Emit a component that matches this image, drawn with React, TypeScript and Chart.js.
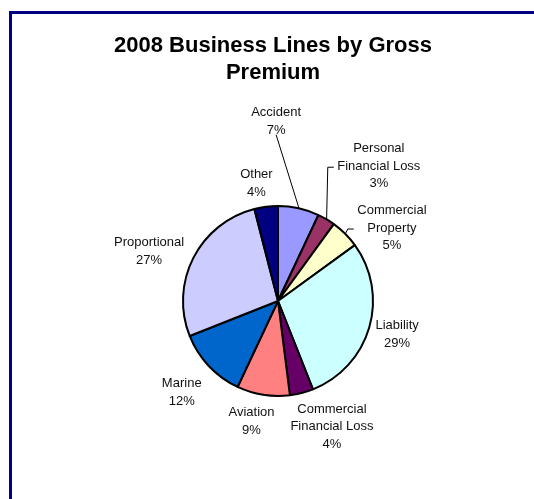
import React, { useEffect, useRef } from "react";
import { Chart, ArcElement, PieController } from "chart.js";

Chart.register(ArcElement, PieController);

// ---- data ----
const titleLines = ["2008 Business Lines by Gross", "Premium"];
const categories: string[][] = [
  ["Accident"],
  ["Personal", "Financial Loss"],
  ["Commercial", "Property"],
  ["Liability"],
  ["Commercial", "Financial Loss"],
  ["Aviation"],
  ["Marine"],
  ["Proportional"],
  ["Other"],
];
const shares = [7, 3, 5, 29, 4, 9, 12, 27, 4];
const sliceColors = [
  "#9999FF",
  "#993366",
  "#FFFFCC",
  "#CCFFFF",
  "#660066",
  "#FF8080",
  "#0066CC",
  "#CCCCFF",
  "#000080",
];

// ---- label placement (style): distance in radii, angle shift in degrees ----
const labelDistance = [1.9, 1.78, 1.43, 1.3, 1.43, 1.29, 1.39, 1.457, 1.27];
const labelAngleShift = [-13.2, 6.0, 12.0, -0.9, -9, 3.5, 0, -5.6, -3.1];
const leaderKind = ["below", "left", "left", "none", "none", "none", "none", "none", "none"];

const LABEL_FONT = '13px Arial, "Liberation Sans", sans-serif';
const LABEL_LINE = 17.5;
const TITLE_FONT = 'bold 22px Arial, "Liberation Sans", sans-serif';
const TITLE_X = 273;
const TITLE_BASE = 51.5;
const TITLE_LINE = 27;

const titlePlugin = {
  id: "customTitle",
  afterDraw(chart: any) {
    const ctx = chart.ctx as CanvasRenderingContext2D;
    ctx.save();
    ctx.font = TITLE_FONT;
    ctx.fillStyle = "#000";
    ctx.textAlign = "center";
    ctx.textBaseline = "alphabetic";
    titleLines.forEach((t, i) => ctx.fillText(t, TITLE_X, TITLE_BASE + i * TITLE_LINE));
    ctx.restore();
  },
};

const labelsPlugin = {
  id: "outLabels",
  afterDatasetsDraw(chart: any) {
    const meta = chart.getDatasetMeta(0);
    const ctx = chart.ctx as CanvasRenderingContext2D;
    const total = shares.reduce((a, b) => a + b, 0);
    ctx.save();
    ctx.font = LABEL_FONT;
    ctx.fillStyle = "#111";
    ctx.strokeStyle = "#000";
    ctx.lineWidth = 1;
    ctx.textAlign = "center";
    ctx.textBaseline = "middle";
    meta.data.forEach((arc: any, i: number) => {
      const { x, y, startAngle, endAngle, outerRadius } = arc.getProps(
        ["x", "y", "startAngle", "endAngle", "outerRadius"],
        true
      );
      const mid = (startAngle + endAngle) / 2;
      const a = mid + (labelAngleShift[i] * Math.PI) / 180;
      const d = outerRadius * labelDistance[i];
      const cx = x + Math.cos(a) * d;
      const cy = y + Math.sin(a) * d + 1;
      const lines = [...categories[i], Math.round((shares[i] / total) * 100) + "%"];
      const n = lines.length;
      lines.forEach((t, k) => ctx.fillText(t, cx, cy + (k - (n - 1) / 2) * LABEL_LINE));
      const ex = x + Math.cos(mid) * (outerRadius + 0.5);
      const ey = y + Math.sin(mid) * (outerRadius + 0.5);
      if (leaderKind[i] === "below") {
        const ly = cy + ((n - 1) / 2) * LABEL_LINE + 4.5;
        ctx.beginPath();
        ctx.moveTo(cx, ly);
        ctx.lineTo(ex, ey);
        ctx.stroke();
      } else if (leaderKind[i] === "left") {
        const w = Math.max(...lines.map((t) => ctx.measureText(t).width));
        const lx = cx - w / 2 - 3.5;
        ctx.beginPath();
        ctx.moveTo(lx, cy + 1);
        ctx.lineTo(lx - 6, cy + 1);
        ctx.lineTo(ex, ey);
        ctx.stroke();
      }
    });
    ctx.restore();
  },
};

export default function App() {
  const ref = useRef<HTMLCanvasElement | null>(null);
  useEffect(() => {
    if (!ref.current) return;
    const chart = new Chart(ref.current, {
      type: "pie",
      data: {
        labels: categories.map((c) => c.join(" ")),
        datasets: [
          {
            data: shares,
            backgroundColor: sliceColors,
            borderColor: "#000",
            borderWidth: 2,
          },
        ],
      },
      options: {
        responsive: false,
        animation: false,
        radius: 95,
        layout: { padding: { left: 22, right: 0, top: 103, bottom: 0 } },
        plugins: { legend: { display: false }, tooltip: { enabled: false } },
        events: [],
      } as any,
      plugins: [labelsPlugin, titlePlugin],
    });
    return () => chart.destroy();
  }, []);
  return (
    <div style={{ position: "absolute", left: 0, top: 0, width: 534, height: 499, overflow: "hidden", background: "#fff" }}>
      <div
        style={{
          position: "absolute",
          left: 9,
          top: 11,
          width: 600,
          height: 600,
          borderLeft: "3px solid #000080",
          borderTop: "3px solid #000080",
        }}
      />
      <canvas ref={ref} width={534} height={499} style={{ position: "absolute", left: 0, top: 0 }} />
    </div>
  );
}
